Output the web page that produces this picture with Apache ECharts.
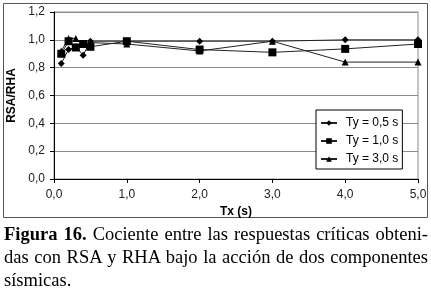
<!DOCTYPE html>
<html lang="es">
<head>
<meta charset="UTF-8">
<title>Figura 16</title>
<script src="https://cdn.jsdelivr.net/npm/echarts@6.0.0/dist/echarts.min.js"></script>
<style>
    body { margin: 0; background: #fff; }
    #chart { position: absolute; left: 0; top: 0; width: 431px; height: 288px; }
    .cap { position: absolute; left: 4px; width: 424px; font-family: 'Liberation Serif', serif;
           font-size: 18.5px; line-height: 23px; color: #000; }
    .just { text-align: justify; text-align-last: justify; }
</style>
</head>
<body>
<div id="chart"></div>
<div class="cap just" style="top:223px"><b>Figura 16.</b> Cociente entre las respuestas críticas obteni-</div>
<div class="cap just" style="top:246px">das con RSA y RHA bajo la acción de dos componentes</div>
<div class="cap" style="top:269px">sísmicas.</div>
<script type="text/javascript">
    // periodo Tx (s)
    var tx = [0.1, 0.2, 0.3, 0.4, 0.5, 1.0, 2.0, 3.0, 4.0, 5.0];
    // cociente RSA/RHA para cada Ty
    var ty05 = [0.83, 0.93, 0.95, 0.89, 0.99, 0.99, 0.99, 0.99, 1.00, 1.00];
    var ty10 = [0.90, 0.99, 0.945, 0.97, 0.95, 0.99, 0.93, 0.91, 0.935, 0.97];
    var ty30 = [0.92, 1.01, 1.01, 0.97, 0.98, 0.97, 0.92, 0.99, 0.84, 0.84];
    var names = ['Ty = 0,5 s', 'Ty = 1,0 s', 'Ty = 3,0 s'];
    var symbols = ['diamond', 'rect', 'triangle'];
    var sizes = [7, 8, 7];

    var pairs = function (ys) {
        var res = [];
        for (var i = 0; i < tx.length; i++) {
            res.push([tx[i], ys[i]]);
        }
        return res;
    };
    var comma = function (v) {
        return v.toFixed(1).replace('.', ',');
    };

    var series = [];
    [ty05, ty10, ty30].forEach(function (ys, k) {
        series.push({
            name: names[k],
            type: 'line',
            symbol: symbols[k],
            symbolSize: sizes[k],
            showAllSymbol: true,
            lineStyle: { color: '#222', width: 1 },
            itemStyle: { color: '#000' },
            data: pairs(ys)
        });
    });

    var myChart = echarts.init(document.getElementById('chart'));
    myChart.setOption({
        animation: false,
        backgroundColor: '#fff',
        textStyle: { fontFamily: 'Liberation Sans' },
        grid: {
            left: 54, right: 13, top: 12, bottom: 109,
            show: true, borderColor: '#8c8c8c', borderWidth: 1,
            outerBoundsMode: 'none'
        },
        graphic: [{
            type: 'rect',
            shape: { x: 3.5, y: 3.5, width: 424, height: 214 },
            style: { fill: null, stroke: '#555', lineWidth: 1 },
            silent: true
        }],
        legend: {
            orient: 'vertical',
            left: 316, top: 110,
            padding: [6, 4, 3, 4],
            itemGap: 4,
            itemWidth: 16,
            itemHeight: 7,
            backgroundColor: '#fff',
            borderColor: '#000',
            borderWidth: 1,
            borderRadius: 0,
            textStyle: { fontSize: 12, color: '#000', lineHeight: 14, padding: [0, 0, 0, 4] },
            data: names
        },
        xAxis: {
            type: 'value',
            min: 0, max: 5, interval: 1,
            name: 'Tx (s)',
            nameLocation: 'middle',
            nameGap: 25,
            nameTextStyle: { fontSize: 12, fontWeight: 'bold', color: '#000' },
            axisLine: { lineStyle: { color: '#000', width: 1 } },
            axisTick: { length: 4, lineStyle: { color: '#000' } },
            axisLabel: { fontSize: 12, color: '#222', margin: 10, formatter: comma },
            splitLine: { show: false }
        },
        yAxis: {
            type: 'value',
            min: 0, max: 1.2, interval: 0.2,
            name: 'RSA/RHA',
            nameLocation: 'middle',
            nameGap: 29,
            nameTextStyle: { fontSize: 12, fontWeight: 'bold', color: '#000' },
            axisLine: { show: true, lineStyle: { color: '#000', width: 1 } },
            axisTick: { show: true, length: 4, lineStyle: { color: '#000' } },
            axisLabel: { fontSize: 12, color: '#222', margin: 9, formatter: comma },
            splitLine: { lineStyle: { color: '#8c8c8c', width: 1 } }
        },
        series: series
    });
</script>
</body>
</html>
